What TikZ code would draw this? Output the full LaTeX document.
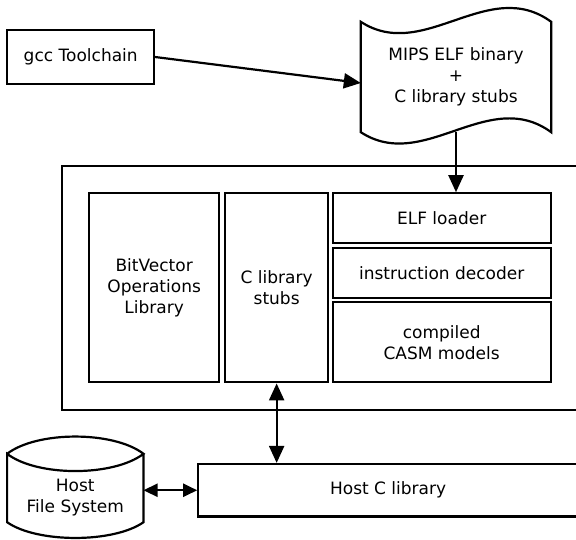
\documentclass[tikz,border=0pt]{standalone}
\usepackage{fontspec}
\setmainfont{DejaVu Sans}
\usetikzlibrary{arrows.meta}
\begin{document}
\begin{tikzpicture}[x=1pt,y=-1pt,
  lw/.style={line width=2.2pt},
  txt/.style={inner sep=0pt, align=center, font=\fontsize{17}{21}\selectfont},
  blk/.style={txt, draw, line width=2.2pt},
  arr/.style={line width=2.2pt, -{Triangle[length=17pt,width=15pt]}},
  darr/.style={line width=2.2pt, {Triangle[length=17pt,width=15pt]}-{Triangle[length=17pt,width=15pt]}},
  sarr/.style={line width=2.2pt, {Triangle[length=14pt,width=13pt]}-{Triangle[length=14pt,width=13pt]}}]
\useasboundingbox (0,0) rectangle (576,539);

% top row
\node[blk, minimum width=146.7pt, minimum height=54pt] (gcc) at (80.7,57) {gcc Toolchain};
\node[txt, minimum width=190pt, minimum height=110pt] (doc) at (456,77) {MIPS ELF binary\\+\\C library stubs};
\draw[lw] (doc.north west) .. controls +(63,41) and +(-63,-46) .. (doc.north east)
  -- (doc.south east) .. controls +(-63,-46) and +(63,41) .. (doc.south west) -- cycle;

% simulator
\node[draw, lw, inner sep=0pt, minimum width=516.3pt, minimum height=244.3pt] (outer) at (319.85,287.85) {};
\node[blk, minimum width=130.3pt, minimum height=189pt] (bitvec) at (154.15,287.8) {BitVector\\Operations\\Library};
\node[blk, minimum width=103.3pt, minimum height=189pt] (stubs) at (276.65,287.8) {C library\\stubs};
\node[blk, minimum width=218pt, minimum height=50pt] (elf) at (441.7,218.3) {ELF loader};
\node[blk, minimum width=218pt, minimum height=49.4pt] (dec) at (441.7,273) {instruction decoder};
\node[blk, minimum width=218pt, minimum height=80pt] (casm) at (441.7,342.3) {compiled\\CASM models};

% host
\node[blk, minimum width=379.7pt, minimum height=52.5pt] (hostc) at (388.15,490.25) {Host C library};
\node[inner sep=0pt, minimum width=136pt, minimum height=68pt] (hfs) at (75.3,488) {};
\node[txt] (hfstext) at (75.3,497.5) {Host\\File System};
\draw[lw] (hfs.north west) .. controls +(30,-23) and +(-30,-23) .. (hfs.north east)
  .. controls +(-30,23) and +(30,23) .. (hfs.north west)
  -- (hfs.south west) .. controls +(30,21) and +(-30,21) .. (hfs.south east)
  -- (hfs.north east);

% connectors
\draw[arr] (gcc.east) -- ([yshift=-6pt]doc.west);
\draw[arr] (doc.south) -- (doc.south |- elf.north);
\draw[darr] (stubs.south) -- (stubs.south |- hostc.north);
\draw[sarr] (hfs.east |- hostc.west) -- (hostc.west);
\end{tikzpicture}
\end{document}
